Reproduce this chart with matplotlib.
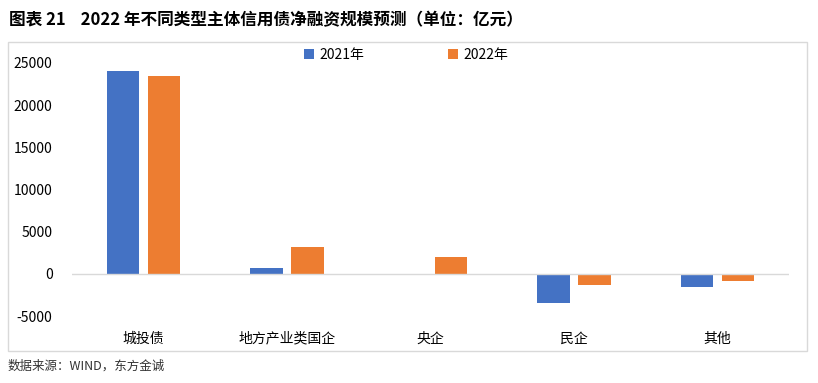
import matplotlib
matplotlib.use("Agg")
import matplotlib.pyplot as plt
import numpy as np
from matplotlib.patches import Rectangle

plt.rcParams['font.family'] = ['Noto Sans CJK SC', 'DejaVu Sans']

categories = ['城投债', '地方产业类国企', '央企', '民企', '其他']
values_2021 = [24000, 700, 0, -3450, -1550]
values_2022 = [23400, 3200, 2000, -1300, -900]
series_names = ['2021年', '2022年']
colors = ['#4472C4', '#ED7D31']
yticks = [-5000, 0, 5000, 10000, 15000, 20000, 25000]

W, H = 818, 383
fig = plt.figure(figsize=(W / 100, H / 100), dpi=100)

# outer frame of the chart
fig.patches.append(Rectangle((8 / W, 1 - 351 / H), (807 - 8) / W, (351 - 42) / H,
                             transform=fig.transFigure, fill=False,
                             edgecolor='#D9D9D9', linewidth=1))

ax = fig.add_axes([72 / W, 1 - 316 / H, (789 - 72) / W, (316 - 63) / H])

x = np.arange(len(categories))
bw = 0.227
off = 0.143
ax.bar(x - off, values_2021, bw, color=colors[0], label=series_names[0])
ax.bar(x + off, values_2022, bw, color=colors[1], label=series_names[1])

ax.set_xlim(-0.5, len(categories) - 0.5)
ax.set_ylim(-5000, 25000)
ax.set_yticks(yticks)
ax.set_yticklabels([str(v) for v in yticks], fontsize=10)
ax.tick_params(axis='y', length=0, pad=14)
ax.set_xticks([])
ax.axhline(0, color='#D9D9D9', linewidth=1)
for s in ax.spines.values():
    s.set_visible(False)

for i, c in enumerate(categories):
    ax.text(i, -7700, c, ha='center', va='center', fontsize=10)

ax.legend(loc='upper center', bbox_to_anchor=(0.466, 1.11), ncol=2, frameon=False,
          fontsize=10, handlelength=0.7, handleheight=0.7, columnspacing=6,
          handletextpad=0.4)

fig.text(9 / W, 1 - 20 / H, '图表 21    2022 年不同类型主体信用债净融资规模预测（单位：亿元）',
         fontsize=12, fontweight='bold', va='center', ha='left')
fig.text(8 / W, 1 - 366 / H, '数据来源：WIND，东方金诚', fontsize=9,
         va='center', ha='left', color='#333333')

fig.savefig('out.png', dpi=100)
